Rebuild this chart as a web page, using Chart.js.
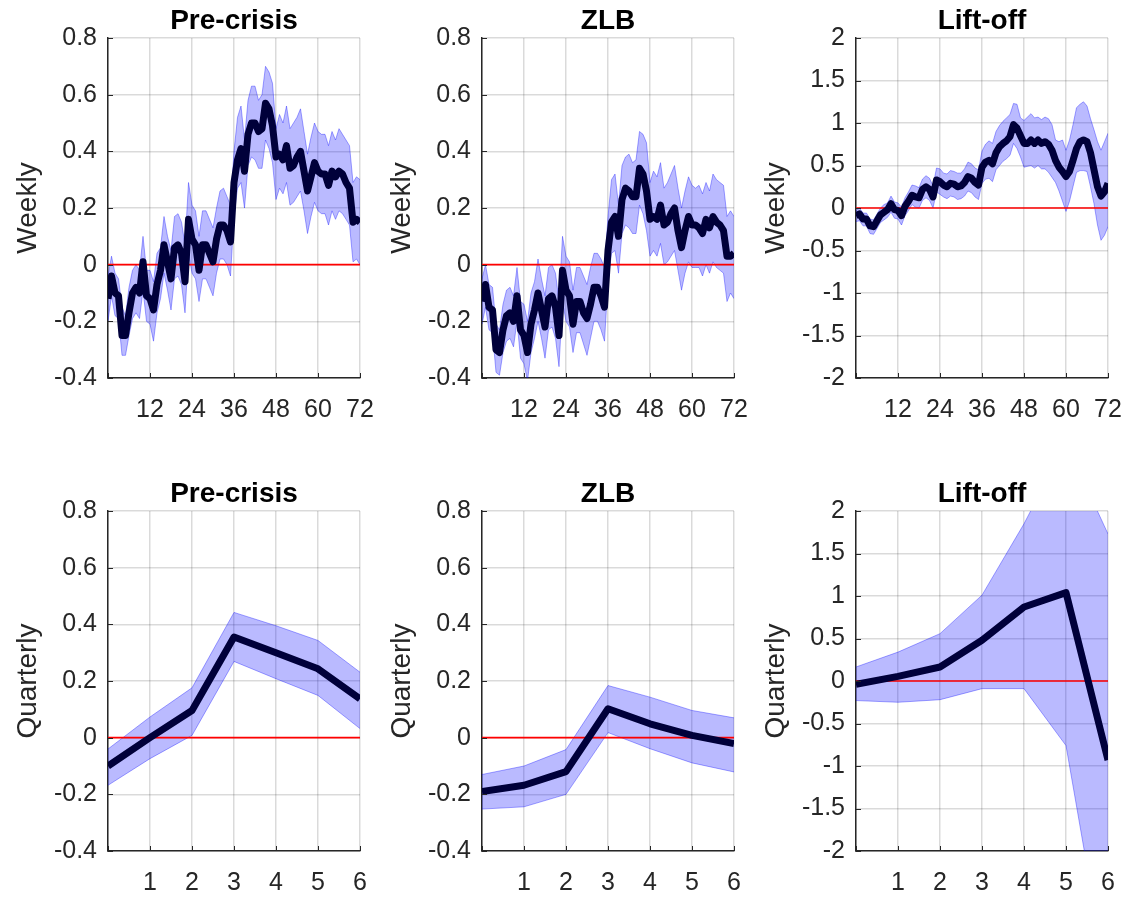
<!DOCTYPE html>
<html>
<head>
<meta charset="utf-8">
<script src="https://cdn.jsdelivr.net/npm/chart.js@4.4.1/dist/chart.umd.min.js"></script>
<style>
  html, body { margin: 0; padding: 0; background: #fff; overflow: hidden; }
  #wrap { position: relative; width: 1129px; height: 897px; }
  #wrap canvas { position: absolute; }
</style>
</head>
<body>
<div id="wrap"></div>
<script>
// 横轴：周 0..72，季度 0..6
const weeks = Array.from({ length: 73 }, (_, i) => i);
const quarters = [0, 1, 2, 3, 4, 5, 6];

// ---- 周度数据 ----
const preWeekMed = [-0.12,-0.04,-0.10,-0.11,-0.25,-0.25,-0.17,-0.10,-0.08,-0.10,
  0.01,-0.11,-0.12,-0.16,-0.07,-0.02,0.07,0.01,-0.05,0.06,
  0.07,0.04,-0.06,0.16,0.09,0.07,-0.02,0.07,0.07,0.04,
  0.01,0.09,0.14,0.14,0.12,0.08,0.29,0.37,0.41,0.33,
  0.46,0.50,0.50,0.47,0.48,0.57,0.55,0.49,0.38,0.39,
  0.37,0.42,0.34,0.35,0.38,0.40,0.33,0.26,0.31,0.36,
  0.33,0.32,0.32,0.28,0.33,0.31,0.33,0.32,0.29,0.27,
  0.15,0.16,0.15];
const preWeekHi = [-0.04,0.03,-0.03,-0.05,-0.15,-0.18,-0.08,-0.02,0.00,-0.02,
  0.10,-0.02,-0.02,-0.06,0.04,0.06,0.17,0.10,0.05,0.17,
  0.18,0.15,0.07,0.29,0.21,0.19,0.10,0.19,0.19,0.16,
  0.13,0.20,0.26,0.27,0.24,0.21,0.40,0.52,0.56,0.44,
  0.58,0.63,0.63,0.58,0.60,0.70,0.68,0.64,0.48,0.53,
  0.50,0.56,0.48,0.50,0.52,0.55,0.47,0.39,0.45,0.50,
  0.47,0.46,0.46,0.42,0.47,0.44,0.48,0.46,0.44,0.42,
  0.29,0.31,0.30];
const preWeekLo = [-0.20,-0.11,-0.18,-0.19,-0.32,-0.32,-0.25,-0.19,-0.17,-0.19,
  -0.09,-0.20,-0.21,-0.27,-0.17,-0.12,-0.03,-0.09,-0.16,-0.05,
  -0.04,-0.07,-0.17,0.04,-0.03,-0.05,-0.13,-0.05,-0.05,-0.08,
  -0.11,-0.03,0.02,0.02,0.00,-0.04,0.17,0.27,0.29,0.20,
  0.35,0.38,0.37,0.34,0.34,0.44,0.41,0.36,0.23,0.27,
  0.25,0.29,0.21,0.22,0.24,0.26,0.19,0.11,0.17,0.22,
  0.19,0.18,0.18,0.14,0.19,0.16,0.19,0.18,0.16,0.14,
  0.01,0.02,0.00];

const zlbWeekMed = [-0.13,-0.07,-0.15,-0.16,-0.30,-0.31,-0.23,-0.18,-0.17,-0.20,
  -0.11,-0.23,-0.25,-0.31,-0.21,-0.16,-0.10,-0.16,-0.22,-0.12,
  -0.11,-0.15,-0.25,-0.02,-0.09,-0.11,-0.21,-0.13,-0.13,-0.17,
  -0.19,-0.14,-0.08,-0.08,-0.11,-0.15,0.05,0.15,0.17,0.10,
  0.23,0.27,0.26,0.24,0.24,0.34,0.32,0.26,0.16,0.17,
  0.16,0.21,0.14,0.15,0.18,0.20,0.12,0.06,0.12,0.17,
  0.14,0.14,0.13,0.11,0.16,0.13,0.17,0.15,0.14,0.12,
  0.03,0.03,0.04];
const zlbWeekHi = [-0.05,0.00,-0.07,-0.08,-0.21,-0.23,-0.14,-0.09,-0.08,-0.11,
  -0.01,-0.13,-0.14,-0.20,-0.10,-0.06,0.02,-0.05,-0.11,-0.01,
  0.00,-0.03,-0.13,0.10,0.03,0.01,-0.09,-0.01,-0.01,-0.04,
  -0.07,-0.01,0.04,0.04,0.02,-0.01,0.17,0.30,0.32,0.21,
  0.35,0.38,0.39,0.36,0.37,0.47,0.46,0.43,0.29,0.33,
  0.31,0.36,0.27,0.29,0.32,0.35,0.27,0.20,0.26,0.31,
  0.28,0.27,0.28,0.25,0.29,0.26,0.32,0.30,0.29,0.28,
  0.17,0.19,0.17];
const zlbWeekLo = [-0.21,-0.15,-0.23,-0.24,-0.38,-0.39,-0.31,-0.27,-0.26,-0.29,
  -0.20,-0.33,-0.35,-0.41,-0.31,-0.26,-0.20,-0.26,-0.33,-0.23,
  -0.22,-0.26,-0.36,-0.13,-0.20,-0.22,-0.31,-0.24,-0.24,-0.28,
  -0.32,-0.26,-0.20,-0.20,-0.23,-0.27,-0.06,0.04,0.05,-0.03,
  0.11,0.14,0.13,0.11,0.11,0.21,0.18,0.12,0.03,0.05,
  0.03,0.075,0.00,0.01,0.03,0.05,-0.02,-0.09,-0.03,0.01,
  -0.01,-0.01,-0.01,-0.04,0.00,-0.03,0.01,-0.01,-0.02,-0.03,
  -0.13,-0.10,-0.12];

const liftWeekMed = [-0.09,-0.07,-0.13,-0.13,-0.21,-0.22,-0.15,-0.08,-0.05,-0.02,
  0.05,-0.02,-0.03,-0.09,0.02,0.08,0.15,0.13,0.12,0.22,
  0.25,0.22,0.13,0.33,0.31,0.27,0.25,0.29,0.28,0.25,
  0.26,0.30,0.37,0.35,0.30,0.27,0.48,0.54,0.56,0.52,
  0.65,0.72,0.76,0.79,0.84,0.98,0.94,0.85,0.76,0.76,
  0.80,0.76,0.80,0.76,0.78,0.75,0.68,0.56,0.48,0.43,
  0.37,0.43,0.56,0.70,0.78,0.80,0.78,0.65,0.45,0.25,
  0.14,0.19,0.29];
const liftWeekHi = [-0.03,0.00,-0.06,-0.06,-0.13,-0.14,-0.07,0.00,0.04,0.06,
  0.14,0.07,0.06,0.01,0.12,0.19,0.27,0.26,0.24,0.34,
  0.38,0.35,0.26,0.47,0.46,0.41,0.40,0.44,0.43,0.41,
  0.41,0.46,0.54,0.52,0.47,0.45,0.67,0.75,0.79,0.76,
  0.90,0.97,1.02,1.06,1.10,1.23,1.22,1.06,1.03,1.07,
  1.11,1.06,1.07,1.04,1.07,1.05,0.98,0.80,0.78,0.80,
  0.68,0.80,0.98,1.18,1.22,1.25,1.20,1.05,0.92,0.78,
  0.68,0.78,0.88];
const liftWeekLo = [-0.16,-0.15,-0.21,-0.21,-0.30,-0.31,-0.24,-0.17,-0.14,-0.11,
  -0.05,-0.12,-0.13,-0.20,-0.09,-0.03,0.04,0.01,0.00,0.09,
  0.12,0.09,0.00,0.19,0.16,0.13,0.11,0.14,0.13,0.10,
  0.11,0.14,0.20,0.18,0.13,0.10,0.29,0.34,0.35,0.31,
  0.45,0.50,0.55,0.58,0.62,0.76,0.70,0.60,0.48,0.49,
  0.50,0.47,0.50,0.46,0.46,0.42,0.36,0.30,0.20,0.08,
  -0.04,0.08,0.25,0.42,0.44,0.44,0.43,0.25,0.05,-0.20,
  -0.38,-0.32,-0.22];

// ---- 季度数据 ----
const preQMed = [-0.10, 0.00, 0.096, 0.355, 0.30, 0.243, 0.137];
const preQHi  = [-0.04, 0.073, 0.176, 0.442, 0.395, 0.343, 0.231];
const preQLo  = [-0.168, -0.074, 0.008, 0.269, 0.208, 0.149, 0.032];

const zlbQMed = [-0.19, -0.168, -0.12, 0.102, 0.049, 0.008, -0.021];
const zlbQHi  = [-0.13, -0.10, -0.042, 0.184, 0.143, 0.096, 0.07];
const zlbQLo  = [-0.252, -0.244, -0.20, 0.018, -0.039, -0.089, -0.121];

const liftQMed = [-0.04, 0.055, 0.165, 0.48, 0.87, 1.04, -0.93];
const liftQHi  = [0.165, 0.34, 0.557, 1.01, 1.85, 2.8, 1.73];
const liftQLo  = [-0.23, -0.25, -0.22, -0.09, -0.09, -0.76, -3.6];

const titles = ['Pre-crisis', 'ZLB', 'Lift-off'];
const rowLabels = ['Weekly', 'Quarterly'];
const smallRange = { min: -0.4, max: 0.8, step: 0.2 };
const bigRange = { min: -2, max: 2, step: 0.5 };
const zeroLevel = 0;

// 颜色
const AXIS_COLOR = '#262626';
const GRID_COLOR = 'rgba(38,38,38,0.17)';
const BAND_FILL = 'rgba(0,0,255,0.27)';
const BAND_EDGE = 'rgba(0,0,255,0.35)';
const LINE_COLOR = '#00003a';
const ZERO_COLOR = '#ff0000';
const FONT = 'Liberation Sans, Arial, Helvetica, sans-serif';

// 布局（像素）
const colLeft = [108, 482, 856];
const rowTop = [38, 511];
const plotW = 252;
const plotH = 340;
const yAxisW = 108;
const titleH = 38;
const xAxisH = 46;
const padRight = 20;

// 刻度数字格式：0.8, 0, -0.2, 1.5, 2
function fmtTick(v) {
  return String(Number(v.toFixed(2)));
}

// 向内的刻度线（MATLAB 风格）
const innerTicks = {
  id: 'innerTicks',
  afterDatasetsDraw(chart) {
    const { ctx, chartArea: a, scales: { x, y } } = chart;
    ctx.save();
    ctx.strokeStyle = AXIS_COLOR;
    ctx.lineWidth = 1;
    ctx.beginPath();
    x.ticks.forEach(t => {
      const px = Math.round(x.getPixelForValue(t.value)) + 0.5;
      ctx.moveTo(px, a.bottom);
      ctx.lineTo(px, a.bottom - 5);
    });
    y.ticks.forEach(t => {
      const py = Math.round(y.getPixelForValue(t.value)) + 0.5;
      ctx.moveTo(a.left, py);
      ctx.lineTo(a.left + 5, py);
    });
    ctx.stroke();
    ctx.restore();
  }
};

function makePanel(row, col, xs, med, hi, lo, range, xStep) {
  const canvas = document.createElement('canvas');
  const w = yAxisW + plotW + padRight;
  const h = titleH + plotH + xAxisH;
  canvas.width = w;
  canvas.height = h;
  canvas.style.left = (colLeft[col] - yAxisW) + 'px';
  canvas.style.top = (rowTop[row] - titleH) + 'px';
  document.getElementById('wrap').appendChild(canvas);

  const xMin = xs[0];
  const xMax = xs[xs.length - 1];

  new Chart(canvas, {
    type: 'line',
    data: {
      labels: xs,
      datasets: [
        {
          label: 'median',
          data: med,
          borderColor: LINE_COLOR,
          borderWidth: 7,
          borderJoinStyle: 'round',
          pointRadius: 0,
          fill: false,
          order: 0
        },
        {
          label: 'zero',
          data: [{ x: xMin, y: zeroLevel }, { x: xMax, y: zeroLevel }],
          borderColor: ZERO_COLOR,
          borderWidth: 1.6,
          pointRadius: 0,
          fill: false,
          order: 1
        },
        {
          label: 'upper',
          data: hi,
          borderColor: BAND_EDGE,
          borderWidth: 1,
          backgroundColor: BAND_FILL,
          pointRadius: 0,
          fill: '+1',
          order: 2
        },
        {
          label: 'lower',
          data: lo,
          borderColor: BAND_EDGE,
          borderWidth: 1,
          pointRadius: 0,
          fill: false,
          order: 3
        }
      ]
    },
    options: {
      responsive: false,
      animation: false,
      events: [],
      layout: { padding: { left: 0, right: padRight, top: 0, bottom: 0 } },
      plugins: {
        legend: { display: false },
        tooltip: { enabled: false },
        title: {
          display: true,
          text: titles[col],
          fullSize: false,
          color: '#000',
          font: { family: FONT, size: 28, weight: 'bold' },
          padding: { top: 4, bottom: 0.4 }
        }
      },
      scales: {
        x: {
          type: 'linear',
          min: xMin,
          max: xMax,
          afterFit: s => {
            s.height = xAxisH;
            s.paddingLeft = 0;
            s.paddingRight = 0;
          },
          border: { display: true, color: AXIS_COLOR, width: 1.5 },
          grid: { color: GRID_COLOR, lineWidth: 1.5, drawTicks: false },
          ticks: {
            stepSize: xStep,
            autoSkip: false,
            maxRotation: 0,
            padding: 17,
            color: AXIS_COLOR,
            font: { family: FONT, size: 25 },
            callback: v => (v === xMin ? '' : String(v))
          }
        },
        y: {
          min: range.min,
          max: range.max,
          afterFit: s => {
            s.width = yAxisW;
            s.paddingTop = 0;
            s.paddingBottom = 0;
          },
          border: { display: true, color: AXIS_COLOR, width: 1.5 },
          grid: { color: GRID_COLOR, lineWidth: 1.5, drawTicks: false },
          title: {
            display: true,
            text: rowLabels[row],
            color: AXIS_COLOR,
            font: { family: FONT, size: 28 },
            padding: { top: 11, bottom: 0 }
          },
          ticks: {
            stepSize: range.step,
            padding: 11,
            color: AXIS_COLOR,
            font: { family: FONT, size: 25 },
            callback: v => fmtTick(v)
          }
        }
      }
    },
    plugins: [innerTicks]
  });
}

// 上排：周度
makePanel(0, 0, weeks, preWeekMed, preWeekHi, preWeekLo, smallRange, 12);
makePanel(0, 1, weeks, zlbWeekMed, zlbWeekHi, zlbWeekLo, smallRange, 12);
makePanel(0, 2, weeks, liftWeekMed, liftWeekHi, liftWeekLo, bigRange, 12);
// 下排：季度
makePanel(1, 0, quarters, preQMed, preQHi, preQLo, smallRange, 1);
makePanel(1, 1, quarters, zlbQMed, zlbQHi, zlbQLo, smallRange, 1);
makePanel(1, 2, quarters, liftQMed, liftQHi, liftQLo, bigRange, 1);
</script>
</body>
</html>
